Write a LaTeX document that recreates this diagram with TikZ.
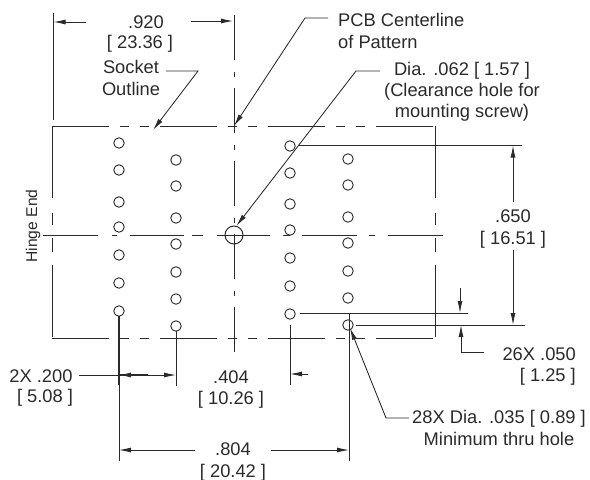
\documentclass[tikz,border=0pt]{standalone}
\usepackage{fontspec}
\setmainfont{Liberation Sans}
\usetikzlibrary{arrows.meta}
\definecolor{ink}{HTML}{2A2A2A}
\tikzset{
  lbl/.style={inner sep=0pt,align=center,text=ink,font=\fontsize{18.3}{21.2}\selectfont},
  hole/.style={draw=ink,circle,line width=.9pt,minimum size=10.5pt,inner sep=0pt},
  bighole/.style={draw=ink,circle,line width=1pt,minimum size=18pt,inner sep=0pt},
  outl/.style={draw=ink,line width=.95pt},
  thin line/.style={draw=ink,line width=.85pt},
  tip/.style={-{Latex[length=12pt,width=5pt]}},
  tips/.style={{Latex[length=12pt,width=5pt]}-{Latex[length=12pt,width=5pt]}},
}
\begin{document}
\begin{tikzpicture}[x=1pt,y=-1pt]
\useasboundingbox (0,0) rectangle (590,480);
% holes
\foreach \n/\y in {1/143,2/170,3/202,4/227,5/255,6/283,7/311}
  \node[hole] (a\n) at (119,\y) {};
\foreach \n/\y in {1/160,2/186,3/218,4/244,5/272,6/299,7/326}
  \node[hole] (b\n) at (176,\y) {};
\foreach \n/\y in {1/146,2/173,3/204,4/230,5/258,6/286,7/314}
  \node[hole] (c\n) at (290,\y) {};
\foreach \n/\y in {1/159,2/185,3/217,4/243,5/271,6/298,7/325}
  \node[hole] (d\n) at (348,\y) {};
\node[bighole] (big) at (234,235) {};
% socket outline
\coordinate (tl) at (52,126); \coordinate (tr) at (435,126);
\coordinate (bl) at (52,338); \coordinate (br) at (435,338);
\draw[outl,dash pattern=on 57pt off 11pt on 9pt off 11pt on 9pt off 11pt] (tl) -- (tr);
\draw[outl,dash pattern=on 57pt off 11pt on 9pt off 11pt on 9pt off 11pt] (bl) -- (br);
\draw[outl,dash pattern=on 72pt off 15pt on 12pt off 13pt on 14pt off 13pt] (tl) -- (bl);
\draw[outl,dash pattern=on 72pt off 15pt on 12pt off 13pt on 14pt off 13pt] (tr) -- (br);
% centerlines
\coordinate (vt) at (234,15); \coordinate (vb) at (234,352);
\draw[outl,dash pattern=on 45pt off 12pt on 5pt off 11pt] (vt) -- (vb);
\foreach \p/\q in {43/98,112/117,130/184,192/203,217/270,283/290,302/357,369/375,388/443}
  \draw[outl] (\p,235) -- (\q,235);
% .920
\coordinate (e1) at (53.5,13); \coordinate (e2) at (53.5,120);
\draw[thin line] (e1) -- (e2);
\node[lbl] (d920) at (146,22.5) {.920};
\node[lbl] (d920b) at (140,43.5) {[ 23.36 ]};
\coordinate (a920l) at (53.5,22); \coordinate (a920r) at (233,21);
\coordinate (a920ls) at (86,22); \coordinate (a920rs) at (191,21);
\draw[thin line,tip] (a920ls) -- (a920l);
\draw[thin line,tip] (a920rs) -- (a920r);
% Socket Outline
\node[lbl] (sock) at (131,78) {Socket\\Outline};
\coordinate (s1) at (166,71); \coordinate (s2) at (198,71); \coordinate (s3) at (153,130);
\draw[thin line,tip] (s1) -- (s2) -- (s3);
% PCB centerline
\node[lbl,align=left,anchor=west] (pcb) at (338,31) {PCB Centerline\\of Pattern};
\coordinate (p1) at (328,18); \coordinate (p2) at (305,18); \coordinate (p3) at (234,126);
\draw[thin line,tip] (p1) -- (p2) -- (p3);
% Dia .062
\node[lbl] (dia) at (462,92) {Dia. .062 [ 1.57 ]\\(Clearance hole for\\mounting screw)};
\coordinate (q1) at (380,71); \coordinate (q2) at (356,71);
\draw[thin line,tip] (q1) -- (q2) -- (big.75);
% Hinge End
\node[lbl,rotate=90,font=\fontsize{15.6}{18}\selectfont] (hinge) at (33,226) {Hinge End};
% .650
\coordinate (r1) at (298,145.5); \coordinate (r2) at (522,145.5);
\coordinate (r3) at (356,325); \coordinate (r4) at (525,325);
\coordinate (r5) at (300,313); \coordinate (r6) at (468,313);
\draw[thin line] (r1) -- (r2);
\draw[thin line] (r3) -- (r4);
\draw[thin line] (r5) -- (r6);
\node[lbl] (d650) at (513,229) {.650\\{[ 16.51 ]}};
\coordinate (u1) at (513,202); \coordinate (u2) at (513,145.5);
\coordinate (u3) at (513,250); \coordinate (u4) at (513,325);
\draw[thin line,tip] (u1) -- (u2);
\draw[thin line,tip] (u3) -- (u4);
% 26X .050
\coordinate (w1) at (460,288); \coordinate (w2) at (460,313);
\draw[thin line,tip] (w1) -- (w2);
\coordinate (w3) at (484,352); \coordinate (w4) at (461,352); \coordinate (w5) at (461,325);
\draw[thin line,tip] (w3) -- (w4) -- (w5);
\node[lbl,anchor=east,align=right] (d26) at (576,366.5) {26X .050\\{[ 1.25 ]}};
% 28X
\node[lbl] (d28) at (499,428) {28X Dia. .035 [ 0.89 ]\\Minimum thru hole};
\coordinate (x1) at (409,418); \coordinate (x2) at (386,418); \coordinate (x3) at (350,328);
\draw[thin line,tip] (x1) -- (x2) -- (x3);
% .804
\coordinate (y1) at (119,316); \coordinate (y2) at (119,461);
\coordinate (y3) at (349,313); \coordinate (y4) at (349,461);
\draw[thin line] (y1) -- (y2);
\draw[thin line] (y3) -- (y4);
\draw[draw=ink,line width=1.5pt] (y1) -- (119,385);
\node[lbl] (d804) at (233,462) {.804\\{[ 20.42 ]}};
\coordinate (y5) at (195,450); \coordinate (y6) at (119,450);
\coordinate (y7) at (271,450); \coordinate (y8) at (349,450);
\draw[thin line,tip] (y5) -- (y6);
\draw[thin line,tip] (y7) -- (y8);
% .404
\coordinate (z1) at (176,331); \coordinate (z2) at (176,386);
\coordinate (z3) at (290,325); \coordinate (z4) at (290,385);
\draw[thin line] (z1) -- (z2);
\draw[thin line] (z3) -- (z4);
\node[lbl] (d404) at (231,389.5) {.404\\{[ 10.26 ]}};
\coordinate (z5) at (308,374); \coordinate (z6) at (290,374);
\draw[thin line,tip] (z5) -- (z6);
% 2X .200
\node[lbl] (d2x) at (41,376) {2X .200};
\node[lbl] (d2xb) at (45,397.5) {[ 5.08 ]};
\coordinate (m1) at (119,375); \coordinate (m2) at (176,375);
\draw[thin line] (79,375) -- (m1);
\draw[thin line,tips] (m1) -- (m2);
\draw[draw=ink,line width=1.5pt] (m1) -- (148,375);
\end{tikzpicture}
\end{document}
